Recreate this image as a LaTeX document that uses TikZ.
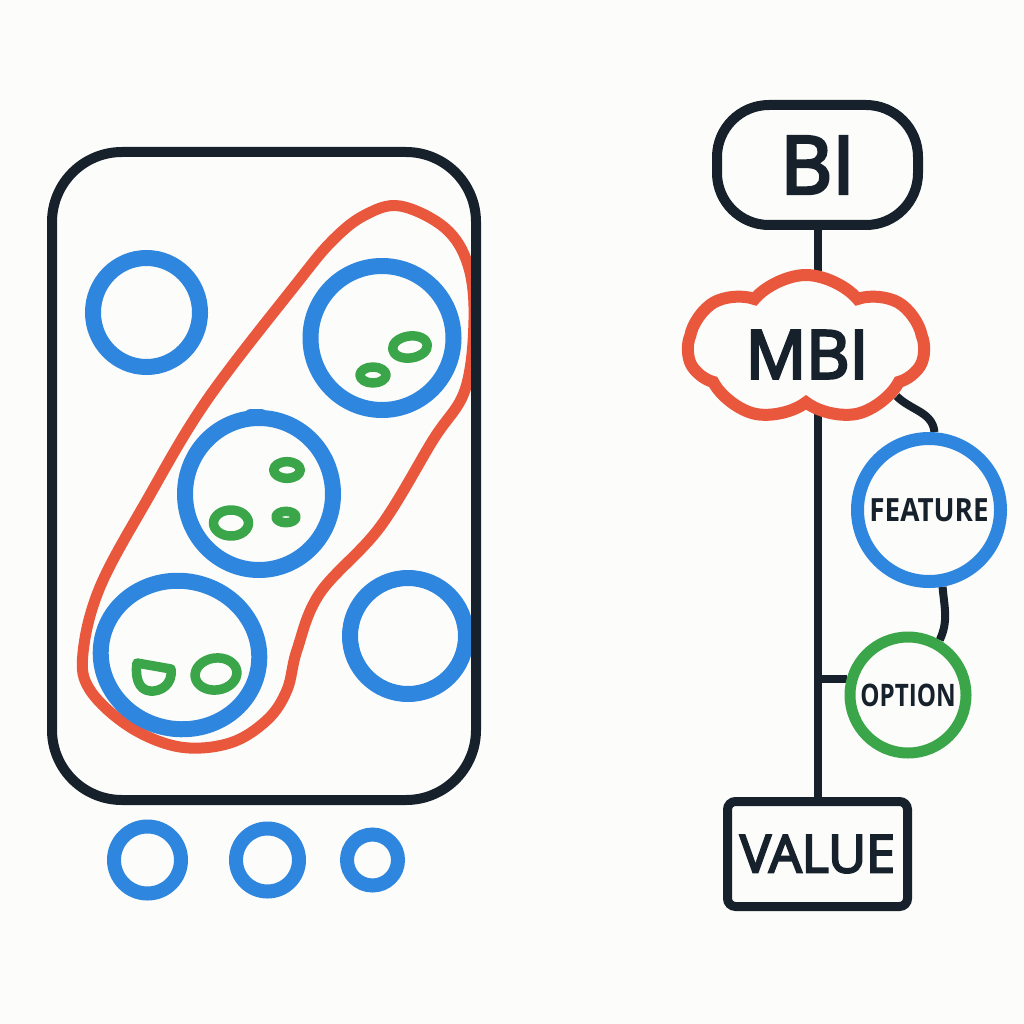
\documentclass[tikz,border=0pt]{standalone}
\usepackage{fontspec}
\setmainfont{Open Sans}
\newfontfamily\semib[FakeBold=4]{Open Sans}
\usetikzlibrary{shapes.symbols,shapes.geometric}
\definecolor{ink}{HTML}{16212C}
\definecolor{cblue}{HTML}{2E86DE}
\definecolor{cred}{HTML}{E9573D}
\definecolor{cgreen}{HTML}{3AA549}
\definecolor{bg}{HTML}{FCFCFA}
\pgfdeclarelayer{back}
\pgfdeclarelayer{lines}
\pgfsetlayers{back,lines,main}
\begin{document}
\begin{tikzpicture}[x=1pt,y=-1pt,
  bluering/.style={draw=cblue,line width=16pt},
  smallring/.style={draw=cblue,line width=14pt},
  greenring/.style={draw=cgreen,line width=9.5pt,line join=round},
  redline/.style={draw=cred,line width=11pt},
  inkline/.style={draw=ink,line width=8pt},
]
\begin{pgfonlayer}{back}
\fill[bg] (0,0) rectangle (1024,1024);
\end{pgfonlayer}
\useasboundingbox (0,0) rectangle (1024,1024);

% ---------- left panel ----------
\begin{scope}
\clip[rounded corners=70pt] (52,152) rectangle (476,800);
\draw[redline] plot[smooth cycle, tension=0.6] coordinates {
 (400,206) (445,228) (468,265) (474,320) (465,390) (433,440) (380,527)
 (320,593) (297,650) (287,690) (267,720) (230,743) (180,747) (130,727)
 (90,690) (83,653) (100,587) (147,500) (207,400) (297,283) (333,240) (365,215)};
\draw[bluering] (146.5,312.5) ellipse[x radius=53.5,y radius=54.5];
\draw[bluering] (382,338) ellipse[x radius=71.5,y radius=72];
\draw[bluering] (259,494) ellipse[x radius=74,y radius=76];
\draw[cblue,line width=9pt,line cap=round] (250,413) -- (262,413);
\draw[bluering, rotate around={-12:(180,655)}] (180,655) ellipse[x radius=79.5,y radius=74];
\draw[bluering] (408,636) circle[radius=58];
% green blobs
\draw[greenring, rotate around={8:(410,347)}] (410,347) ellipse[x radius=17.5,y radius=11];
\draw[greenring] (373,375) ellipse[x radius=13,y radius=8];
\draw[greenring] (287,470) ellipse[x radius=13.3,y radius=8.3];
\draw[greenring] (231,523) ellipse[x radius=17.5,y radius=13];
\draw[greenring] (286,517) ellipse[x radius=10,y radius=5.7];
\draw[greenring, rotate around={8:(216,674)}] (216,674) ellipse[x radius=21,y radius=16];
\draw[greenring] (137,663) -- (171,669) .. controls (173,685) and (160,692) .. (150,691)
  .. controls (138,690) and (135,676) .. cycle;
\end{scope}
\draw[draw=ink,line width=10pt,rounded corners=70pt] (52,152) rectangle (476,800);

% small circles below
\draw[smallring] (147.5,860) circle[radius=33.5];
\draw[smallring] (267.5,860) circle[radius=31.5];
\draw[smallring] (372.5,860) circle[radius=25.5];

% ---------- right panel ----------
\node[draw=ink, text=ink, line width=10pt, rectangle, rounded corners=52pt, minimum width=201pt,
  minimum height=120pt, inner sep=0pt, fill=bg, font=\semib\fontsize{80}{80}\selectfont] (bi) at (817.5,165) {BI};
\node[cloud, draw=cred, line width=12pt, fill=bg, cloud puffs=7, cloud puff arc=100,
  aspect=1.6, minimum width=236pt, minimum height=146pt, inner sep=0pt] (mbi) at (806,348) {};
\node[text=ink, inner sep=0pt, font=\semib\fontsize{67}{67}\selectfont] (mbitext) at (807,354.5) {MBI};
\node[circle, draw=cblue, text=ink, line width=13pt, fill=bg, minimum size=143pt, inner sep=0pt,
  font=\bfseries\fontsize{32}{32}\selectfont] (feat) at (929,510) {\scalebox{0.87}[1]{FEATURE}};
\node[circle, draw=cgreen, text=ink, line width=11pt, fill=bg, minimum size=116pt, inner sep=0pt,
  font=\bfseries\fontsize{31}{31}\selectfont] (opt) at (908,695) {\scalebox{0.78}[1]{OPTION}};
\node[rectangle, draw=ink, text=ink, line width=9pt, rounded corners=8pt, fill=bg, minimum width=180pt,
  minimum height=105pt, inner sep=0pt, font=\semib\fontsize{52}{52}\selectfont] (val) at (817.5,854) {VALUE};

\begin{pgfonlayer}{lines}
\draw[inkline] (bi.south) -- (val.north);
\draw[inkline] (mbi.-28) to[out=-45,in=95] (feat.86);
\draw[inkline] (feat.-80) to[out=-85,in=65] (opt.60);
\draw[inkline] (bi.south |- opt.165) -- (opt.165);
\end{pgfonlayer}
\end{tikzpicture}
\end{document}
